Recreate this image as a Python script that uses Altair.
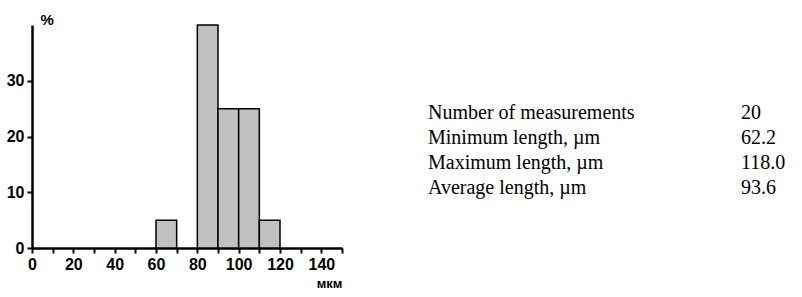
import altair as alt
import pandas as pd

# Histogram data (length bins in µm, percent of measurements)
bin_start = [60, 80, 90, 100, 110]
bin_end = [70, 90, 100, 110, 120]
percent = [5, 40, 25, 25, 5]

# Summary table
row_labels = ["Number of measurements", "Minimum length, \u00b5m",
              "Maximum length, \u00b5m", "Average length, \u00b5m"]
row_values = ["20", "62.2", "118.0", "93.6"]
row_index = [0, 1, 2, 3]

x_ticks = list(range(0, 160, 10))
y_ticks = [0, 10, 20, 30]

hist_df = pd.DataFrame({"start": bin_start, "end": bin_end, "pct": percent})
table_df = pd.DataFrame({"row": row_index, "label": row_labels, "value": row_values})

W, H = 310, 223

bars = alt.Chart(hist_df).mark_rect(
    fill="#c0c0c0", stroke="black", strokeWidth=1.5
).encode(
    x=alt.X("start:Q",
            scale=alt.Scale(domain=[0, 150], nice=False, zero=True),
            axis=alt.Axis(values=x_ticks,
                          labelExpr="(datum.value % 20 == 0 && datum.value < 150) ? datum.label : ''",
                          labelAngle=0, labelPadding=3, labelFlush=False,
                          title="\u043c\u043a\u043c", titleX=W, titleY=39,
                          titleAlign="right", titleBaseline="alphabetic",
                          titleFontSize=13, titleFontWeight="bold")),
    x2="end:Q",
    y=alt.Y("pct:Q",
            scale=alt.Scale(domain=[0, 40], nice=False),
            axis=alt.Axis(values=y_ticks, labelPadding=3,
                          title="%", titleAngle=0, titleX=8, titleY=-1,
                          titleAlign="left", titleBaseline="alphabetic",
                          titleFontSize=15, titleFontWeight="bold")),
    y2=alt.datum(0),
)

base_text = alt.Chart(table_df).encode(
    y=alt.Y("row:Q", scale=alt.Scale(domain=[0, 3], range=[94, 169]), axis=None)
)
labels = base_text.mark_text(
    align="left", baseline="alphabetic", font="Liberation Serif", fontSize=20, color="black"
).encode(x=alt.value(396), text="label:N")
values = base_text.mark_text(
    align="left", baseline="alphabetic", font="Liberation Serif", fontSize=20, color="black"
).encode(x=alt.value(709), text="value:N")

chart = alt.layer(bars, labels + values).resolve_scale(y="independent").properties(
    width=W, height=H,
    autosize=alt.AutoSizeParams(type="none"),
    padding={"left": 32, "top": 25, "right": 802 - 32 - W, "bottom": 297 - 25 - H},
    background="white",
).configure_view(stroke=None).configure_axis(
    grid=False, domainColor="black", domainWidth=2.5, tickColor="black",
    tickWidth=2, tickSize=5, labelColor="black", titleColor="black",
    labelFont="Liberation Sans", titleFont="Liberation Sans",
    labelFontSize=16, labelFontWeight="bold",
)

chart.save("out.html", embed_options={"renderer": "svg", "actions": False})
